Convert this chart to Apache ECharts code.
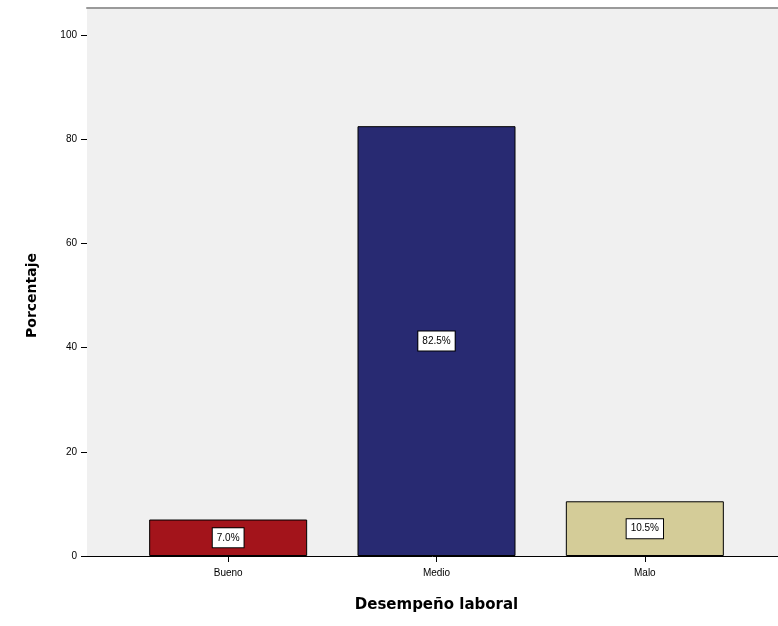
<!DOCTYPE html>
<html>
<head>
<meta charset="utf-8">
<script src="https://cdn.jsdelivr.net/npm/echarts@6/dist/echarts.min.js"></script>
<style>
  html, body { margin: 0; padding: 0; background: #fff; }
  #chart { width: 778px; height: 626px; }
</style>
</head>
<body>
<div id="chart"></div>
<script>
// Desempeño laboral: percentage of respondents per rating
const categories = ['Bueno', 'Medio', 'Malo'];
const percentages = [7.0, 82.5, 10.5];
const barColors = ['#a3141b', '#282a72', '#d4cc98'];
const yTicks = [0, 20, 40, 60, 80, 100];

const chart = echarts.init(document.getElementById('chart'));

const fontFamily = '"Liberation Sans", Arial, sans-serif';
const nameFont = '"DejaVu Sans", sans-serif';
const yMin = yTicks[0];
const yMax = yTicks[yTicks.length - 1];

chart.setOption({
  animation: false,
  backgroundColor: '#ffffff',
  grid: [
    // frame: grey panel with a thin top border and the baseline
    { left: 87, right: 0, top: 8, bottom: 70, show: true,
      backgroundColor: '#f0f0f0', borderWidth: 0 },
    // percentage scale (0–100) along the panel's left edge
    { left: 87, right: 0, top: 35, bottom: 70 },
    // inner band where the three bars sit
    { left: 124, right: 29, top: 35, bottom: 70 }
  ],
  xAxis: [
    { gridIndex: 0, type: 'value', position: 'bottom', min: 0, max: 1,
      axisLine: { show: true, lineStyle: { color: '#000', width: 1 } },
      axisTick: { show: false }, axisLabel: { show: false }, splitLine: { show: false } },
    { gridIndex: 0, type: 'value', position: 'top', min: 0, max: 1,
      axisLine: { show: true, lineStyle: { color: '#9a9a9a', width: 2 } },
      axisTick: { show: false }, axisLabel: { show: false }, splitLine: { show: false } },
    { gridIndex: 1, type: 'value', min: 0, max: 1, show: false },
    { gridIndex: 2, type: 'category', data: categories, boundaryGap: true,
      axisLine: { show: false },
      axisTick: { show: true, alignWithLabel: true, length: 6, lineStyle: { color: '#000' } },
      axisLabel: { color: '#000', fontSize: 10, fontFamily: fontFamily, margin: 12 },
      name: 'Desempeño laboral', nameLocation: 'middle', nameGap: 42,
      nameTextStyle: { color: '#000', fontSize: 15, fontWeight: 'bold', fontFamily: nameFont } }
  ],
  yAxis: [
    { gridIndex: 0, type: 'value', min: 0, max: 1, show: false },
    { gridIndex: 1, type: 'value', min: yMin, max: yMax,
      interval: yTicks[1] - yTicks[0],
      axisLine: { show: false },
      axisTick: { show: true, length: 6, lineStyle: { color: '#000' } },
      axisLabel: { color: '#000', fontSize: 10, fontFamily: fontFamily, margin: 10 },
      splitLine: { show: false },
      name: 'Porcentaje', nameLocation: 'middle', nameGap: 48,
      nameTextStyle: { color: '#000', fontSize: 14, fontWeight: 'bold', fontFamily: nameFont } },
    { gridIndex: 2, type: 'value', min: yMin, max: yMax, show: false }
  ],
  series: [{
    type: 'bar',
    xAxisIndex: 3,
    yAxisIndex: 2,
    barWidth: 158,
    data: percentages.map((v, i) => ({
      value: v,
      itemStyle: { color: barColors[i], borderColor: '#000', borderWidth: 1 }
    })),
    label: {
      show: true,
      position: 'inside',
      formatter: p => p.value.toFixed(1) + '%',
      color: '#000',
      fontSize: 10,
      fontFamily: fontFamily,
      backgroundColor: '#fff',
      borderColor: '#000',
      borderWidth: 1,
      padding: [5, 4, 4, 4]
    }
  }]
});
</script>
</body>
</html>
